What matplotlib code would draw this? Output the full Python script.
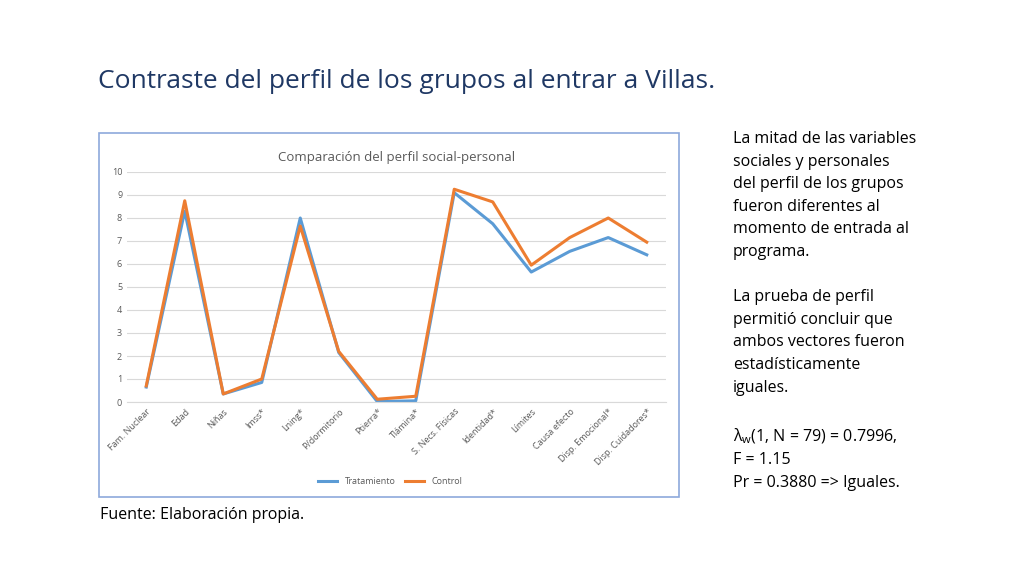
import matplotlib
matplotlib.use("Agg")
import matplotlib.pyplot as plt
from matplotlib.patches import Rectangle

categories = ["Fam. Nuclear", "Edad", "Niñas", "Imss*", "Lning*", "P/dormitorio", "Ptierra*",
              "Tlámina*", "S. Necs. Físicas", "Identidad*", "Límites", "Causa efecto",
              "Disp. Emocional*", "Disp. Cuidadores*"]
tratamiento = [0.65, 8.3, 0.35, 0.85, 8.0, 2.15, 0.02, 0.05, 9.1, 7.75, 5.65, 6.55, 7.15, 6.4]
control = [0.7, 8.75, 0.35, 1.0, 7.65, 2.2, 0.12, 0.25, 9.25, 8.7, 5.95, 7.15, 8.0, 6.95]

plt.rcParams["font.family"] = "Open Sans"
plt.rcParams["mathtext.default"] = "regular"
fig = plt.figure(figsize=(10.24, 5.76), dpi=100)
fig.text(98/1024, 1 - 82/576, "Contraste del perfil de los grupos al entrar a Villas.",
         fontsize=19, color="#1F3864", va="center", ha="left")
fig.patches.append(Rectangle((99/1024, 1 - 497/576), 580/1024, 364/576, transform=fig.transFigure,
                             fill=False, edgecolor="#8EA9DB", linewidth=1.2))
ax = fig.add_axes([127/1024, 1 - 402/576, 539/1024, 230/576])
x = list(range(len(categories)))
ax.plot(x, tratamiento, color="#5B9BD5", lw=2.2, label="Tratamiento")
ax.plot(x, control, color="#ED7D31", lw=2.2, label="Control")
ax.set_xlim(-0.5, 13.5)
ax.set_ylim(0, 10)
ax.set_yticks(range(11))
ax.grid(axis="y", color="#D9D9D9", lw=0.8)
ax.set_axisbelow(True)
for s in ax.spines.values():
    s.set_visible(False)
ax.spines["bottom"].set_visible(True)
ax.spines["bottom"].set_color("#D9D9D9")
ax.tick_params(length=0, labelsize=6.5, colors="#595959")
ax.set_xticks(x)
ax.set_xticklabels(categories, rotation=45, ha="right", rotation_mode="anchor")
ax.set_title("Comparación del perfil social-personal", fontsize=9.5, color="#595959", pad=8)
fig.legend(loc="center", bbox_to_anchor=(390/1024, 1 - 482/576), ncol=2, frameon=False,
           fontsize=6.5, labelcolor="#595959", handlelength=2.2, columnspacing=1.0)
fig.text(100/1024, 1 - 515/576, "Fuente: Elaboración propia.", fontsize=11.5, va="center")
txt = ("La mitad de las variables\nsociales y personales\ndel perfil de los grupos\n"
       "fueron diferentes al\nmomento de entrada al\nprograma.\n\nLa prueba de perfil\n"
       "permitió concluir que\nambos vectores fueron\nestadísticamente\niguales.\n\n"
       "λ$_w$(1, N = 79) = 0.7996,\nF = 1.15\nPr = 0.3880 => Iguales.")
fig.text(733/1024, 1 - 131/576, txt, fontsize=11.5, va="top", ha="left", linespacing=1.55)
fig.savefig("out.png")
